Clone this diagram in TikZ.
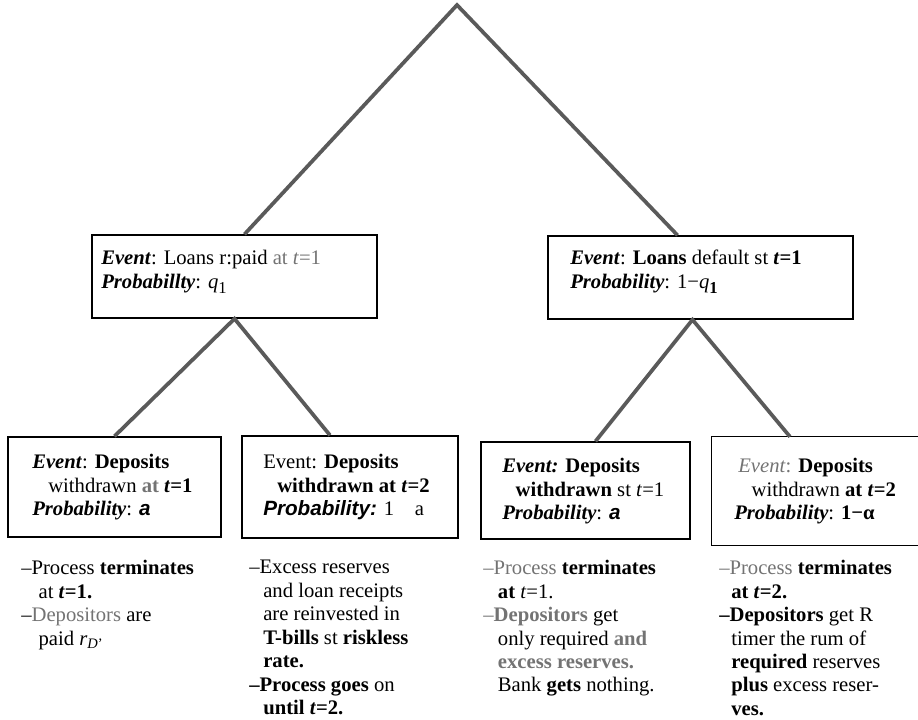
\documentclass[tikz,border=0pt]{standalone}
\usepackage{fontspec}
\setmainfont{Liberation Serif}
\setsansfont{Liberation Sans}
\usetikzlibrary{fit,calc}
\definecolor{scangray}{gray}{0.45}
\definecolor{branchgray}{RGB}{90,90,90}
\tikzset{
  box/.style={draw=black, line width=1.1pt, inner sep=0pt},
  branch/.style={draw=branchgray, line width=2.8pt},
  txt/.style={anchor=north west, inner sep=0.75pt, align=left, font=\fontsize{15.5}{17.6}\selectfont},
}

\begin{document}
\begin{tikzpicture}[x=0.75pt,y=0.75pt,yscale=-1,xscale=1]
    \useasboundingbox (0,0) rectangle (918,720);

    %Shape: Rectangle
    \node[box, fit={(92,235) (377,318)}] (lrep) {};
    %Shape: Rectangle
    \node[box, fit={(548,236) (853,319)}] (ldef) {};
    %Shape: Rectangle
    \node[box, fit={(8,437) (221,537)}] (dwA) {};
    %Shape: Rectangle
    \node[box, fit={(242,436) (458,538)}] (dwB) {};
    %Shape: Rectangle
    \node[box, fit={(481,442) (690,539)}] (dwC) {};
    %Shape: Rectangle (open on the right)
    \node[inner sep=0pt, fit={(712,437) (918,545)}] (dwD) {};
    \draw[line width=1.1pt] (dwD.north east) -- (dwD.north west) -- (dwD.south west) -- (dwD.south east);

    %Straight Lines
    \coordinate (root) at (457,5);
    \coordinate (rfork) at ($(ldef.south)+(-8,0)$);
    \draw[branch] ($(lrep.north)+(10,0)$) -- (root) -- ($(ldef.north)+(-23,0)$);
    %Straight Lines
    \draw[branch] (dwA.north) -- (lrep.south) -- ($(dwB.north)+(-20,0)$);
    %Straight Lines
    \draw[branch] ($(dwC.north)+(10,0)$) -- (rfork) -- ($(dwD.north)+(-25,0)$);

    % Text Node
    \node[txt] (lrep-txt) at (100,249) {\textbf{\textit{Event}}: Loans r:paid \textcolor{scangray}{at \textit{t}=1}\\\textbf{\textit{Probabillty}}: \textit{q}\raisebox{-4pt}{\fontsize{12.5}{12.5}\selectfont 1}};
    % Text Node
    \node[txt] (ldef-txt) at (569,249) {\textbf{\textit{Event}}: \textbf{Loans} default st \textbf{\textit{t}=1}\\\textbf{\textit{Probability}}: 1−\textit{q}\raisebox{-4pt}{\fontsize{12.5}{12.5}\selectfont\bfseries 1}};
    % Text Node
    \node[txt] (dwA-txt) at (31,453) {\textbf{\textit{Event}}: \textbf{Deposits}\\\hspace*{12pt}withdrawn \textcolor{scangray}{\textbf{at}} \textbf{\textit{t}=1}\\\textbf{\textit{Probability}}: \textsf{\bfseries\itshape a}};
    % Text Node
    \node[txt] (dwB-txt) at (262,453) {Event: \textbf{Deposits}\\\hspace*{10.5pt}\textbf{withdrawn at \textit{t}=2}\\\textsf{\bfseries\itshape Probability:} 1\quad a};
    % Text Node
    \node[txt] (dwC-txt) at (501,457) {\textbf{\textit{Event:}} \textbf{Deposits}\\\hspace*{10pt}\textbf{withdrawn} st \textit{t}=1\\\textbf{\textit{Probability}}: \textsf{\bfseries\itshape a}};
    % Text Node
    \node[txt] (dwD-txt) at (733,457) {\hspace*{3pt}\textcolor{scangray}{\textit{Event}:} \textbf{Deposits}\\\hspace*{13pt}withdrawn \textbf{at \textit{t}=2}\\\textbf{\textit{Probability}}: \textbf{1−α}};

    % Text Node
    \node[txt] (outA) at (20,559) {–Process \textbf{terminates}\\\hspace*{13pt}at \textbf{\textit{t}=1.}\\–\textcolor{scangray}{Depositors} are\\\hspace*{13pt}paid \textit{r}\textsubscript{\textit{D}'}};
    % Text Node
    \node[txt] (outB) at (248,559) {–Excess reserves\\\hspace*{10.5pt}and loan receipts\\\hspace*{10.5pt}are reinvested in\\\hspace*{10.5pt}\textbf{T-bills} st \textbf{riskless}\\\hspace*{10.5pt}\textbf{rate.}\\\textbf{–Process goes} on\\\hspace*{10.5pt}\textbf{until \textit{t}=2.}};
    % Text Node
    \node[txt] (outC) at (482,559) {\textcolor{scangray}{–Process} \textbf{terminates}\\\hspace*{11pt}\textbf{at} \textit{t}=1.\\\textcolor{scangray}{–\textbf{Depositors}} get\\\hspace*{11pt}only required \textcolor{scangray}{\textbf{and}}\\\hspace*{11pt}\textcolor{scangray}{\textbf{excess reserves.}}\\\hspace*{11pt}Bank \textbf{gets} nothing.};
    % Text Node
    \node[txt] (outD) at (718,559) {\textcolor{scangray}{–Process} \textbf{terminates}\\\hspace*{9pt}\textbf{at \textit{t}=2.}\\\textbf{–Depositors} get R\\\hspace*{9pt}timer the rum of\\\hspace*{9pt}\textbf{required} reserves\\\hspace*{9pt}\textbf{plus} excess reser-\\\hspace*{9pt}\textbf{ves.}};

\end{tikzpicture}
\end{document}
